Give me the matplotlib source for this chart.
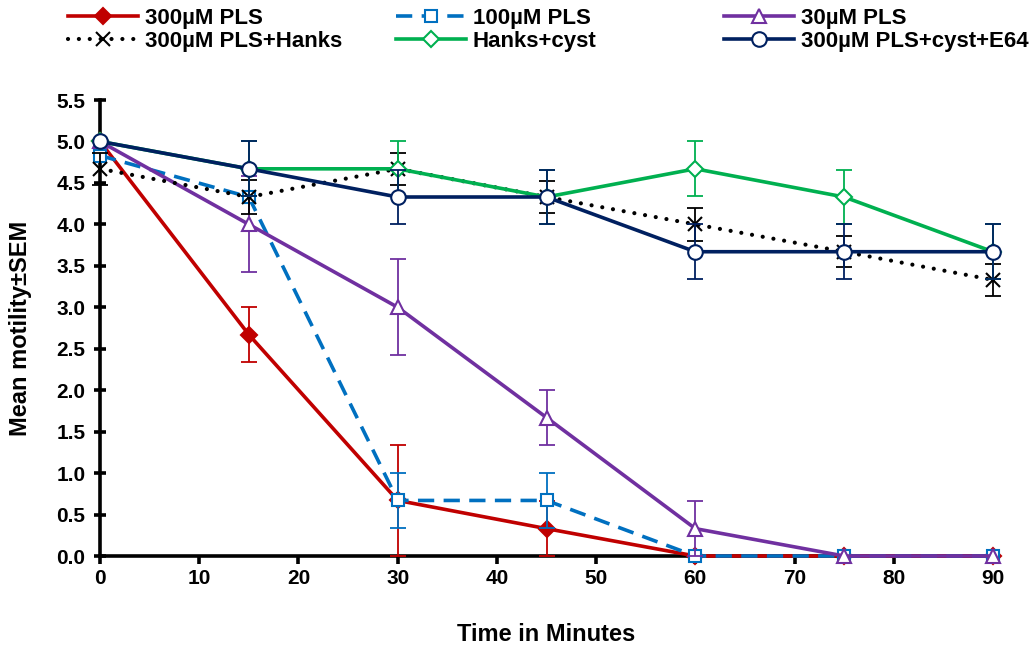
import matplotlib
matplotlib.use("Agg")
import matplotlib.pyplot as plt
import numpy as np

plt.rcParams["font.family"] = ["Liberation Sans", "DejaVu Sans"]
plt.rcParams["font.weight"] = "bold"

# --- Data ---------------------------------------------------------------------
minutes = [0, 15, 30, 45, 60, 75, 90]

pls300 = [5.0, 2.67, 0.67, 0.33, 0.0, 0.0, 0.0]
pls300_err = [0, 0.33, 0.67, 0.33, 0, 0, 0]

pls100 = [4.83, 4.33, 0.67, 0.67, 0.0, 0.0, 0.0]
pls100_err = [0, 0, 0.33, 0.33, 0, 0, 0]

pls30 = [5.0, 4.0, 3.0, 1.67, 0.33, 0.0, 0.0]
pls30_err = [0, 0.58, 0.58, 0.33, 0.33, 0, 0]

hanks = [4.67, 4.33, 4.67, 4.33, 4.0, 3.67, 3.33]
hanks_err = [0.19, 0.2, 0.19, 0.19, 0.2, 0.19, 0.19]

cyst = [5.0, 4.67, 4.67, 4.33, 4.67, 4.33, 3.67]
cyst_err = [0, 0.33, 0.33, 0.33, 0.33, 0.33, 0.33]

e64 = [5.0, 4.67, 4.33, 4.33, 3.67, 3.67, 3.67]
e64_err = [0, 0.33, 0.33, 0.33, 0.33, 0.33, 0.33]

labels = ["300µM PLS", "100µM PLS", "30µM PLS",
          "300µM PLS+Hanks", "Hanks+cyst", "300µM PLS+cyst+E64"]

# --- Styles -------------------------------------------------------------------
styles = [
    dict(color="#C00000", ls="-", marker="D", ms=8.5, mfc="#C00000"),
    dict(color="#0070C0", ls=(0, (4.5, 2.6)), marker="s", ms=9, mfc="white"),
    dict(color="#7030A0", ls="-", marker="^", ms=10, mfc="white"),
    dict(color="black", ls=(0, (0.01, 2.6)), marker="x", ms=10, mfc="black"),
    dict(color="#00B050", ls="-", marker="D", ms=8.5, mfc="white"),
    dict(color="#002060", ls="-", marker="o", ms=10.5, mfc="white"),
]
series = [(pls300, pls300_err), (pls100, pls100_err), (pls30, pls30_err),
          (hanks, hanks_err), (cyst, cyst_err), (e64, e64_err)]

W, H = 1035, 648
fig = plt.figure(figsize=(W / 100, H / 100), dpi=100)
ax = fig.add_axes([100 / W, 1 - 556 / H, 893 / W, 456 / H])

x = np.array(minutes, dtype=float)
handles = []
for i, ((vals, errs), st) in enumerate(zip(series, styles)):
    vals = np.array(vals)
    errs = np.array(errs, dtype=float)
    z = 3 + i
    lw = 3.0 if st["marker"] == "x" else 2.6
    mask = errs > 0
    if mask.any():
        ax.errorbar(x[mask], vals[mask], yerr=errs[mask], fmt="none",
                    ecolor=st["color"], elinewidth=1.3, capsize=5.5,
                    capthick=1.3, zorder=z - 0.1, clip_on=False)
    line, = ax.plot(x, vals, color=st["color"], lw=lw, ls=st["ls"],
                    marker=st["marker"], ms=st["ms"], mfc=st["mfc"],
                    mec=st["color"], mew=1.5, zorder=z, clip_on=False,
                    dash_capstyle="round" if st["marker"] == "x" else "butt",
                    label=labels[i])
    handles.append(line)

ax.set_xlim(0, 90)
ax.set_ylim(0, 5.5)
ax.set_xticks(np.arange(0, 91, 10))
ax.set_yticks(np.arange(0, 5.51, 0.5))
ax.set_yticklabels([f"{v:.1f}" for v in np.arange(0, 5.51, 0.5)])

for side in ["top", "right"]:
    ax.spines[side].set_visible(False)
for side in ["left", "bottom"]:
    ax.spines[side].set_linewidth(2.6)
ax.tick_params(axis="x", direction="out", length=6, width=2.6,
               labelsize=15, pad=3)
ax.tick_params(axis="y", direction="inout", length=9, width=2.6,
               labelsize=15, pad=6)

ax.set_xlabel("Time in Minutes", fontsize=17, fontweight="bold")
ax.set_ylabel("Mean motility±SEM", fontsize=17, fontweight="bold")
ax.xaxis.set_label_coords(0.5, -0.148)
ax.yaxis.set_label_coords(-0.076, 0.5)

# --- Legend: three columns of two rows -----------------------------------------
col_x = [68, 396, 724]
for c in range(3):
    leg = fig.legend(handles=[handles[c], handles[c + 3]],
                     loc="upper left",
                     bbox_to_anchor=(col_x[c] / W, 1 - 8 / H),
                     frameon=False, fontsize=16, handlelength=3.15,
                     handletextpad=0.3, labelspacing=0.1,
                     borderpad=0, borderaxespad=0)

fig.savefig("out.png", dpi=100)
